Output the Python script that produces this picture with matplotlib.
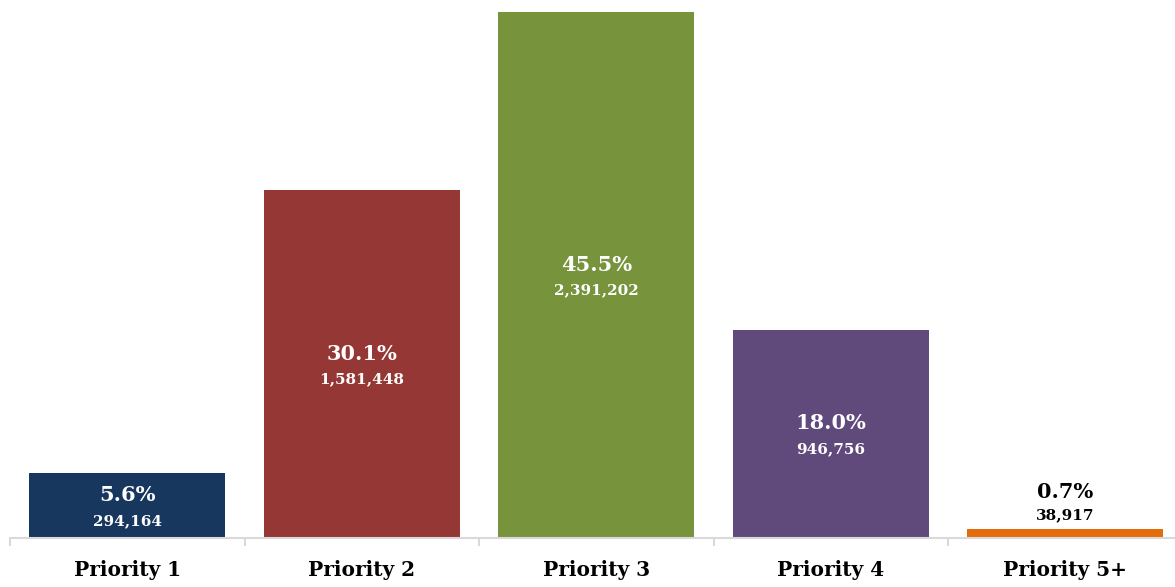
import matplotlib
matplotlib.use("Agg")
import matplotlib.pyplot as plt

categories = ["Priority 1", "Priority 2", "Priority 3", "Priority 4", "Priority 5+"]
counts = [294164, 1581448, 2391202, 946756, 38917]
shares = [5.6, 30.1, 45.5, 18.0, 0.7]
colors = ["#17375E", "#953735", "#77933C", "#604A7B", "#E46C0A"]

W, H = 1175, 587
fig = plt.figure(figsize=(W / 100, H / 100), dpi=100)
# plot area runs slightly past the right edge of the canvas
ax = fig.add_axes([10 / W, (H - 538) / H, 1172.5 / W, 538 / H])

x = range(len(categories))
ax.bar(x, counts, width=0.835, color=colors)
ax.set_xlim(-0.5, len(categories) - 0.5)
ax.set_ylim(0, max(counts) * 538 / 526)

family = "DejaVu Serif"
pct_size, num_size = 15, 11
ymax = ax.get_ylim()[1]
for i, (c, s) in enumerate(zip(counts, shares)):
    if c / ymax > 0.08:
        anchor, off_pct, off_num, tc = c / 2, 7.5, -11, "white"
    else:
        anchor, off_pct, off_num, tc = c, 27, 10, "black"
    ax.annotate(f"{s:.1f}%", (i, anchor), xytext=(0, off_pct), textcoords="offset points",
                ha="center", va="center", color=tc, fontsize=pct_size, fontweight="bold", family=family)
    ax.annotate(f"{c:,}", (i, anchor), xytext=(0, off_num), textcoords="offset points",
                ha="center", va="center", color=tc, fontsize=num_size, fontweight="bold", family=family)

for side in ["top", "right", "left"]:
    ax.spines[side].set_visible(False)
ax.spines["bottom"].set_color("#D9D9D9")
ax.spines["bottom"].set_linewidth(1.5)
ax.set_yticks([])

ax.set_xticks(list(x))
ax.set_xticklabels(categories, fontsize=14.5, fontweight="bold", family=family)
ax.tick_params(axis="x", length=0, pad=16)
ax.set_xticks([i - 0.5 for i in range(len(categories) + 1)], minor=True)
ax.tick_params(axis="x", which="minor", length=6, color="#D9D9D9", width=1.5)

fig.savefig("out.png", dpi=100)
